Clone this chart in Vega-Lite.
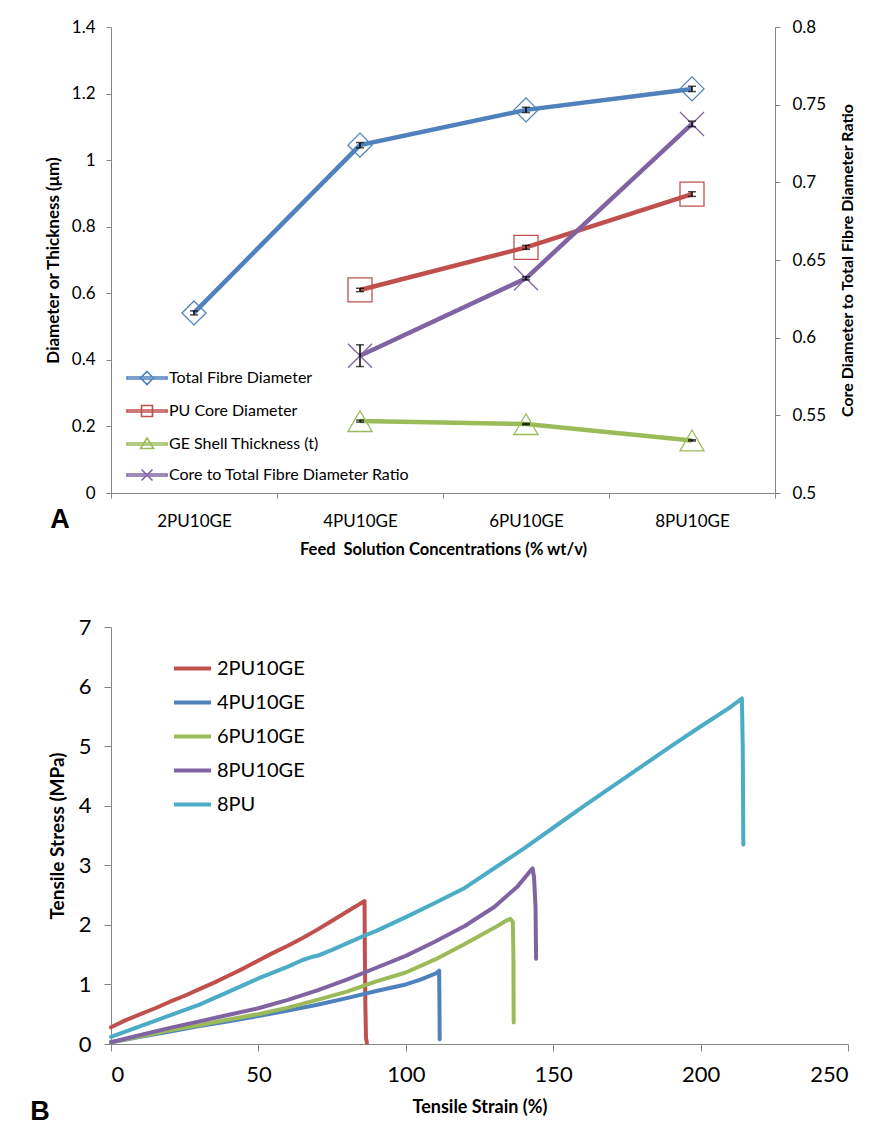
{
  "$schema": "https://vega.github.io/schema/vega-lite/v6.json",
  "background": "white",
  "padding": {"left": 30, "top": 18, "right": 0, "bottom": 0},
  "config": {
    "font": "Lato",
    "view": {"stroke": null},
    "axis": {"labelFont": "Lato", "titleFont": "Lato", "labelColor": "#000", "titleColor": "#000", "domainColor": "#868686", "tickColor": "#868686", "grid": false, "titleFontWeight": "bold"},
    "legend": {"labelFont": "Lato", "labelColor": "#000", "labelLimit": 400}
  },
  "datasets": {
    "fibre": [
      {"series": "Total Fibre Diameter", "cat": "2PU10GE", "axis": "L", "value": 0.541, "lo": 0.535, "hi": 0.547},
      {"series": "Total Fibre Diameter", "cat": "4PU10GE", "axis": "L", "value": 1.045, "lo": 1.037, "hi": 1.053},
      {"series": "Total Fibre Diameter", "cat": "6PU10GE", "axis": "L", "value": 1.151, "lo": 1.143, "hi": 1.159},
      {"series": "Total Fibre Diameter", "cat": "8PU10GE", "axis": "L", "value": 1.214, "lo": 1.206, "hi": 1.222},
      {"series": "PU Core Diameter", "cat": "4PU10GE", "axis": "L", "value": 0.61, "lo": 0.605, "hi": 0.615},
      {"series": "PU Core Diameter", "cat": "6PU10GE", "axis": "L", "value": 0.738, "lo": 0.732, "hi": 0.744},
      {"series": "PU Core Diameter", "cat": "8PU10GE", "axis": "L", "value": 0.898, "lo": 0.891, "hi": 0.905},
      {"series": "GE Shell Thickness (t)", "cat": "4PU10GE", "axis": "L", "value": 0.216, "lo": 0.213, "hi": 0.219},
      {"series": "GE Shell Thickness (t)", "cat": "6PU10GE", "axis": "L", "value": 0.207, "lo": 0.205, "hi": 0.209},
      {"series": "GE Shell Thickness (t)", "cat": "8PU10GE", "axis": "L", "value": 0.158, "lo": 0.156, "hi": 0.16},
      {"series": "Core to Total Fibre Diameter Ratio", "cat": "4PU10GE", "axis": "R", "value": 0.5884, "lo": 0.5814, "hi": 0.5954},
      {"series": "Core to Total Fibre Diameter Ratio", "cat": "6PU10GE", "axis": "R", "value": 0.6382, "lo": 0.6372, "hi": 0.6392},
      {"series": "Core to Total Fibre Diameter Ratio", "cat": "8PU10GE", "axis": "R", "value": 0.7376, "lo": 0.7358, "hi": 0.7394}
    ],
    "tensile": [
      {"sample": "2PU10GE", "i": 1, "strain": 0, "stress": 0.28},
      {"sample": "2PU10GE", "i": 2, "strain": 5, "stress": 0.4},
      {"sample": "2PU10GE", "i": 3, "strain": 10, "stress": 0.5},
      {"sample": "2PU10GE", "i": 4, "strain": 15, "stress": 0.6},
      {"sample": "2PU10GE", "i": 5, "strain": 20, "stress": 0.71},
      {"sample": "2PU10GE", "i": 6, "strain": 25, "stress": 0.81},
      {"sample": "2PU10GE", "i": 7, "strain": 30, "stress": 0.92},
      {"sample": "2PU10GE", "i": 8, "strain": 35, "stress": 1.03},
      {"sample": "2PU10GE", "i": 9, "strain": 40, "stress": 1.15},
      {"sample": "2PU10GE", "i": 10, "strain": 45, "stress": 1.27},
      {"sample": "2PU10GE", "i": 11, "strain": 50, "stress": 1.4},
      {"sample": "2PU10GE", "i": 12, "strain": 55, "stress": 1.53},
      {"sample": "2PU10GE", "i": 13, "strain": 60, "stress": 1.65},
      {"sample": "2PU10GE", "i": 14, "strain": 65, "stress": 1.78},
      {"sample": "2PU10GE", "i": 15, "strain": 70, "stress": 1.92},
      {"sample": "2PU10GE", "i": 16, "strain": 75, "stress": 2.07},
      {"sample": "2PU10GE", "i": 17, "strain": 80, "stress": 2.22},
      {"sample": "2PU10GE", "i": 18, "strain": 84, "stress": 2.34},
      {"sample": "2PU10GE", "i": 19, "strain": 86, "stress": 2.4},
      {"sample": "2PU10GE", "i": 20, "strain": 86.1, "stress": 1.6},
      {"sample": "2PU10GE", "i": 21, "strain": 86.3, "stress": 0.6},
      {"sample": "2PU10GE", "i": 22, "strain": 86.5, "stress": 0.1},
      {"sample": "2PU10GE", "i": 23, "strain": 86.8, "stress": 0.02},
      {"sample": "4PU10GE", "i": 1, "strain": 0, "stress": 0.03},
      {"sample": "4PU10GE", "i": 2, "strain": 10, "stress": 0.12},
      {"sample": "4PU10GE", "i": 3, "strain": 20, "stress": 0.21},
      {"sample": "4PU10GE", "i": 4, "strain": 30, "stress": 0.3},
      {"sample": "4PU10GE", "i": 5, "strain": 40, "stress": 0.38},
      {"sample": "4PU10GE", "i": 6, "strain": 50, "stress": 0.47},
      {"sample": "4PU10GE", "i": 7, "strain": 60, "stress": 0.56},
      {"sample": "4PU10GE", "i": 8, "strain": 70, "stress": 0.66},
      {"sample": "4PU10GE", "i": 9, "strain": 80, "stress": 0.77},
      {"sample": "4PU10GE", "i": 10, "strain": 90, "stress": 0.89},
      {"sample": "4PU10GE", "i": 11, "strain": 100, "stress": 1.0},
      {"sample": "4PU10GE", "i": 12, "strain": 105, "stress": 1.08},
      {"sample": "4PU10GE", "i": 13, "strain": 110, "stress": 1.18},
      {"sample": "4PU10GE", "i": 14, "strain": 111.3, "stress": 1.23},
      {"sample": "4PU10GE", "i": 15, "strain": 111.4, "stress": 0.8},
      {"sample": "4PU10GE", "i": 16, "strain": 111.5, "stress": 0.08},
      {"sample": "6PU10GE", "i": 1, "strain": 0, "stress": 0.03},
      {"sample": "6PU10GE", "i": 2, "strain": 10, "stress": 0.13},
      {"sample": "6PU10GE", "i": 3, "strain": 20, "stress": 0.23},
      {"sample": "6PU10GE", "i": 4, "strain": 30, "stress": 0.32},
      {"sample": "6PU10GE", "i": 5, "strain": 40, "stress": 0.41},
      {"sample": "6PU10GE", "i": 6, "strain": 50, "stress": 0.5},
      {"sample": "6PU10GE", "i": 7, "strain": 60, "stress": 0.61},
      {"sample": "6PU10GE", "i": 8, "strain": 70, "stress": 0.74},
      {"sample": "6PU10GE", "i": 9, "strain": 80, "stress": 0.88},
      {"sample": "6PU10GE", "i": 10, "strain": 90, "stress": 1.05},
      {"sample": "6PU10GE", "i": 11, "strain": 100, "stress": 1.2},
      {"sample": "6PU10GE", "i": 12, "strain": 110, "stress": 1.42},
      {"sample": "6PU10GE", "i": 13, "strain": 120, "stress": 1.68},
      {"sample": "6PU10GE", "i": 14, "strain": 130, "stress": 1.95},
      {"sample": "6PU10GE", "i": 15, "strain": 134, "stress": 2.07},
      {"sample": "6PU10GE", "i": 16, "strain": 135.5, "stress": 2.1},
      {"sample": "6PU10GE", "i": 17, "strain": 136.3, "stress": 2.05},
      {"sample": "6PU10GE", "i": 18, "strain": 136.5, "stress": 1.5},
      {"sample": "6PU10GE", "i": 19, "strain": 136.6, "stress": 0.36},
      {"sample": "8PU10GE", "i": 1, "strain": 0, "stress": 0.03},
      {"sample": "8PU10GE", "i": 2, "strain": 10, "stress": 0.15},
      {"sample": "8PU10GE", "i": 3, "strain": 20, "stress": 0.27},
      {"sample": "8PU10GE", "i": 4, "strain": 30, "stress": 0.38},
      {"sample": "8PU10GE", "i": 5, "strain": 40, "stress": 0.49},
      {"sample": "8PU10GE", "i": 6, "strain": 50, "stress": 0.6},
      {"sample": "8PU10GE", "i": 7, "strain": 60, "stress": 0.74},
      {"sample": "8PU10GE", "i": 8, "strain": 70, "stress": 0.9},
      {"sample": "8PU10GE", "i": 9, "strain": 80, "stress": 1.08},
      {"sample": "8PU10GE", "i": 10, "strain": 90, "stress": 1.28},
      {"sample": "8PU10GE", "i": 11, "strain": 100, "stress": 1.48},
      {"sample": "8PU10GE", "i": 12, "strain": 110, "stress": 1.72},
      {"sample": "8PU10GE", "i": 13, "strain": 120, "stress": 1.98},
      {"sample": "8PU10GE", "i": 14, "strain": 130, "stress": 2.3},
      {"sample": "8PU10GE", "i": 15, "strain": 138, "stress": 2.65},
      {"sample": "8PU10GE", "i": 16, "strain": 143, "stress": 2.95},
      {"sample": "8PU10GE", "i": 17, "strain": 143.5, "stress": 2.8},
      {"sample": "8PU10GE", "i": 18, "strain": 144, "stress": 2.3},
      {"sample": "8PU10GE", "i": 19, "strain": 144.2, "stress": 1.43},
      {"sample": "8PU", "i": 1, "strain": 0, "stress": 0.12},
      {"sample": "8PU", "i": 2, "strain": 10, "stress": 0.3},
      {"sample": "8PU", "i": 3, "strain": 20, "stress": 0.48},
      {"sample": "8PU", "i": 4, "strain": 30, "stress": 0.66},
      {"sample": "8PU", "i": 5, "strain": 40, "stress": 0.88},
      {"sample": "8PU", "i": 6, "strain": 50, "stress": 1.1},
      {"sample": "8PU", "i": 7, "strain": 60, "stress": 1.3},
      {"sample": "8PU", "i": 8, "strain": 65, "stress": 1.41},
      {"sample": "8PU", "i": 9, "strain": 68, "stress": 1.46},
      {"sample": "8PU", "i": 10, "strain": 70, "stress": 1.48},
      {"sample": "8PU", "i": 11, "strain": 75, "stress": 1.58},
      {"sample": "8PU", "i": 12, "strain": 80, "stress": 1.69},
      {"sample": "8PU", "i": 13, "strain": 86, "stress": 1.82},
      {"sample": "8PU", "i": 14, "strain": 90, "stress": 1.9},
      {"sample": "8PU", "i": 15, "strain": 100, "stress": 2.13},
      {"sample": "8PU", "i": 16, "strain": 110, "stress": 2.37},
      {"sample": "8PU", "i": 17, "strain": 120, "stress": 2.62},
      {"sample": "8PU", "i": 18, "strain": 130, "stress": 2.95},
      {"sample": "8PU", "i": 19, "strain": 140, "stress": 3.28},
      {"sample": "8PU", "i": 20, "strain": 150, "stress": 3.63},
      {"sample": "8PU", "i": 21, "strain": 160, "stress": 3.98},
      {"sample": "8PU", "i": 22, "strain": 170, "stress": 4.32},
      {"sample": "8PU", "i": 23, "strain": 180, "stress": 4.66},
      {"sample": "8PU", "i": 24, "strain": 190, "stress": 5.0},
      {"sample": "8PU", "i": 25, "strain": 200, "stress": 5.33},
      {"sample": "8PU", "i": 26, "strain": 210, "stress": 5.65},
      {"sample": "8PU", "i": 27, "strain": 214, "stress": 5.8},
      {"sample": "8PU", "i": 28, "strain": 214.3, "stress": 5.0},
      {"sample": "8PU", "i": 29, "strain": 214.5, "stress": 3.35}
    ]
  },
  "spacing": 58,
  "resolve": {"scale": {"color": "independent", "shape": "independent"}, "legend": {"color": "independent", "shape": "independent"}},
  "vconcat": [
    {
      "width": 664,
      "height": 466,
      "data": {"name": "fibre"},
      "title": {"text": "A", "orient": "bottom", "anchor": "start", "frame": "bounds", "offset": -51, "dx": 6, "fontSize": 27, "font": "Liberation Sans", "fontWeight": "bold", "color": "#000"},
      "encoding": {
        "x": {
          "field": "cat", "type": "nominal",
          "scale": {"domain": ["2PU10GE", "4PU10GE", "6PU10GE", "8PU10GE"], "paddingInner": 0, "paddingOuter": 0},
          "axis": {"title": "Feed\u00a0 Solution Concentrations (% wt/v)", "labelAngle": 0, "tickBand": "extent", "tickSize": 5, "labelPadding": 15, "labelFontSize": 17, "titleFontSize": 16.5, "titlePadding": 12}
        }
      },
      "layer": [
        {
          "transform": [{"filter": "datum.axis === 'L'"}],
          "encoding": {
            "y": {
              "field": "value", "type": "quantitative", "scale": {"domain": [0, 1.4]},
              "axis": {"title": "Diameter or Thickness (μm)", "values": [0, 0.2, 0.4, 0.6, 0.8, 1, 1.2, 1.4], "format": ".1~f", "tickSize": 5, "labelPadding": 11, "labelFontSize": 17, "titleFontSize": 17, "titlePadding": 9}
            }
          },
          "layer": [
            {
              "mark": {"type": "line", "strokeWidth": 4.5},
              "encoding": {
                "color": {"field": "series", "type": "nominal", "scale": {"domain": ["Total Fibre Diameter", "PU Core Diameter", "GE Shell Thickness (t)", "Core to Total Fibre Diameter Ratio"], "range": ["#4F81BD", "#C0504D", "#9BBB59", "#8064A2"]}}
              }
            },
            {
              "mark": {"type": "point", "filled": false, "size": 576, "strokeWidth": 1.3, "opacity": 1},
              "encoding": {
                "color": {
                  "field": "series", "type": "nominal",
                  "scale": {"domain": ["Total Fibre Diameter", "PU Core Diameter", "GE Shell Thickness (t)", "Core to Total Fibre Diameter Ratio"], "range": ["#4F81BD", "#C0504D", "#9BBB59", "#8064A2"]},
                  "legend": {
                    "title": null, "orient": "none", "legendX": 28, "legendY": 343, "padding": 0,
                    "symbolSize": 100, "labelFontSize": 16, "labelOffset": 14, "rowPadding": 14, "symbolStrokeWidth": 1.6, "symbolOpacity": 1, "symbolFillColor": "transparent",
                    "symbolType": {"expr": "datum.value === 'Total Fibre Diameter' ? 'M-4,-0.2H4V0.2H-4ZM0,-1.3L1.3,0L0,1.3L-1.3,0Z' : datum.value === 'PU Core Diameter' ? 'M-4,-0.2H4V0.2H-4ZM-1.1,-1.1H1.1V1.1H-1.1Z' : datum.value === 'GE Shell Thickness (t)' ? 'M-4,-0.2H4V0.2H-4ZM0,-1.2L1.3,0.9H-1.3Z' : 'M-4,-0.2H4V0.2H-4ZM-1.1,-1.1L1.1,1.1M1.1,-1.1L-1.1,1.1'"}
                  }
                },
                "shape": {"field": "series", "type": "nominal", "legend": null, "scale": {"domain": ["Core to Total Fibre Diameter Ratio", "GE Shell Thickness (t)", "PU Core Diameter", "Total Fibre Diameter"], "range": ["M-1,-1L1,1M1,-1L-1,1", "triangle-up", "square", "diamond"]}}
              }
            },
            {
              "mark": {"type": "errorbar", "ticks": {"size": 8}, "color": "black", "thickness": 1.5},
              "encoding": {"y": {"field": "lo", "type": "quantitative", "title": "Diameter or Thickness (μm)"}, "y2": {"field": "hi"}}
            }
          ]
        },
        {
          "transform": [{"filter": "datum.axis === 'R'"}],
          "encoding": {
            "y": {
              "field": "value", "type": "quantitative", "scale": {"domain": [0.5, 0.8]},
              "axis": {"orient": "right", "title": "Core Diameter to Total Fibre Diameter Ratio", "titleAngle": 270, "titleBaseline": "top", "values": [0.5, 0.55, 0.6, 0.65, 0.7, 0.75, 0.8], "format": ".2~f", "tickSize": 5, "labelPadding": 12, "labelFontSize": 17, "titleFontSize": 16, "titlePadding": 14}
            }
          },
          "layer": [
            {"mark": {"type": "line", "strokeWidth": 4.5}, "encoding": {"color": {"field": "series", "type": "nominal"}}},
            {
              "mark": {"type": "point", "filled": false, "size": 576, "strokeWidth": 1.3, "opacity": 1},
              "encoding": {"color": {"field": "series", "type": "nominal"}, "shape": {"field": "series", "type": "nominal", "legend": null}}
            },
            {
              "mark": {"type": "errorbar", "ticks": {"size": 8}, "color": "black", "thickness": 1.5},
              "encoding": {"y": {"field": "lo", "type": "quantitative", "title": "Core Diameter to Total Fibre Diameter Ratio"}, "y2": {"field": "hi"}}
            }
          ]
        }
      ],
      "resolve": {"scale": {"y": "independent"}}
    },
    {
      "width": 737,
      "height": 417,
      "data": {"name": "tensile"},
      "title": {"text": "B", "orient": "bottom", "anchor": "start", "frame": "bounds", "offset": -17, "dx": -18, "fontSize": 27, "font": "Liberation Sans", "fontWeight": "bold", "color": "#000"},
      "mark": {"type": "line", "strokeWidth": 4, "strokeCap": "round", "strokeJoin": "round"},
      "encoding": {
        "x": {
          "field": "strain", "type": "quantitative", "scale": {"domain": [0, 250]},
          "axis": {"title": "Tensile Strain (%)", "values": [0, 50, 100, 150, 200, 250], "tickSize": 7, "labelPadding": 13, "labelFontSize": 22, "titleFontSize": 18, "titlePadding": 13}
        },
        "y": {
          "field": "stress", "type": "quantitative", "scale": {"domain": [0, 7]},
          "axis": {"title": "Tensile Stress (MPa)", "values": [0, 1, 2, 3, 4, 5, 6, 7], "tickSize": 7, "labelPadding": 13, "labelFontSize": 22, "titleFontSize": 19, "titlePadding": 11}
        },
        "color": {
          "field": "sample", "type": "nominal",
          "scale": {"domain": ["2PU10GE", "4PU10GE", "6PU10GE", "8PU10GE", "8PU"], "range": ["#C0504D", "#4F81BD", "#9BBB59", "#8064A2", "#4BACC6"]},
          "legend": {"title": null, "orient": "none", "legendX": 70, "legendY": 30, "padding": 0, "symbolType": "M-2,0H2", "symbolSize": 342, "symbolStrokeWidth": 4, "labelFontSize": 20, "labelOffset": 13, "rowPadding": 12}
        },
        "order": {"field": "i", "type": "quantitative"}
      }
    }
  ]
}
